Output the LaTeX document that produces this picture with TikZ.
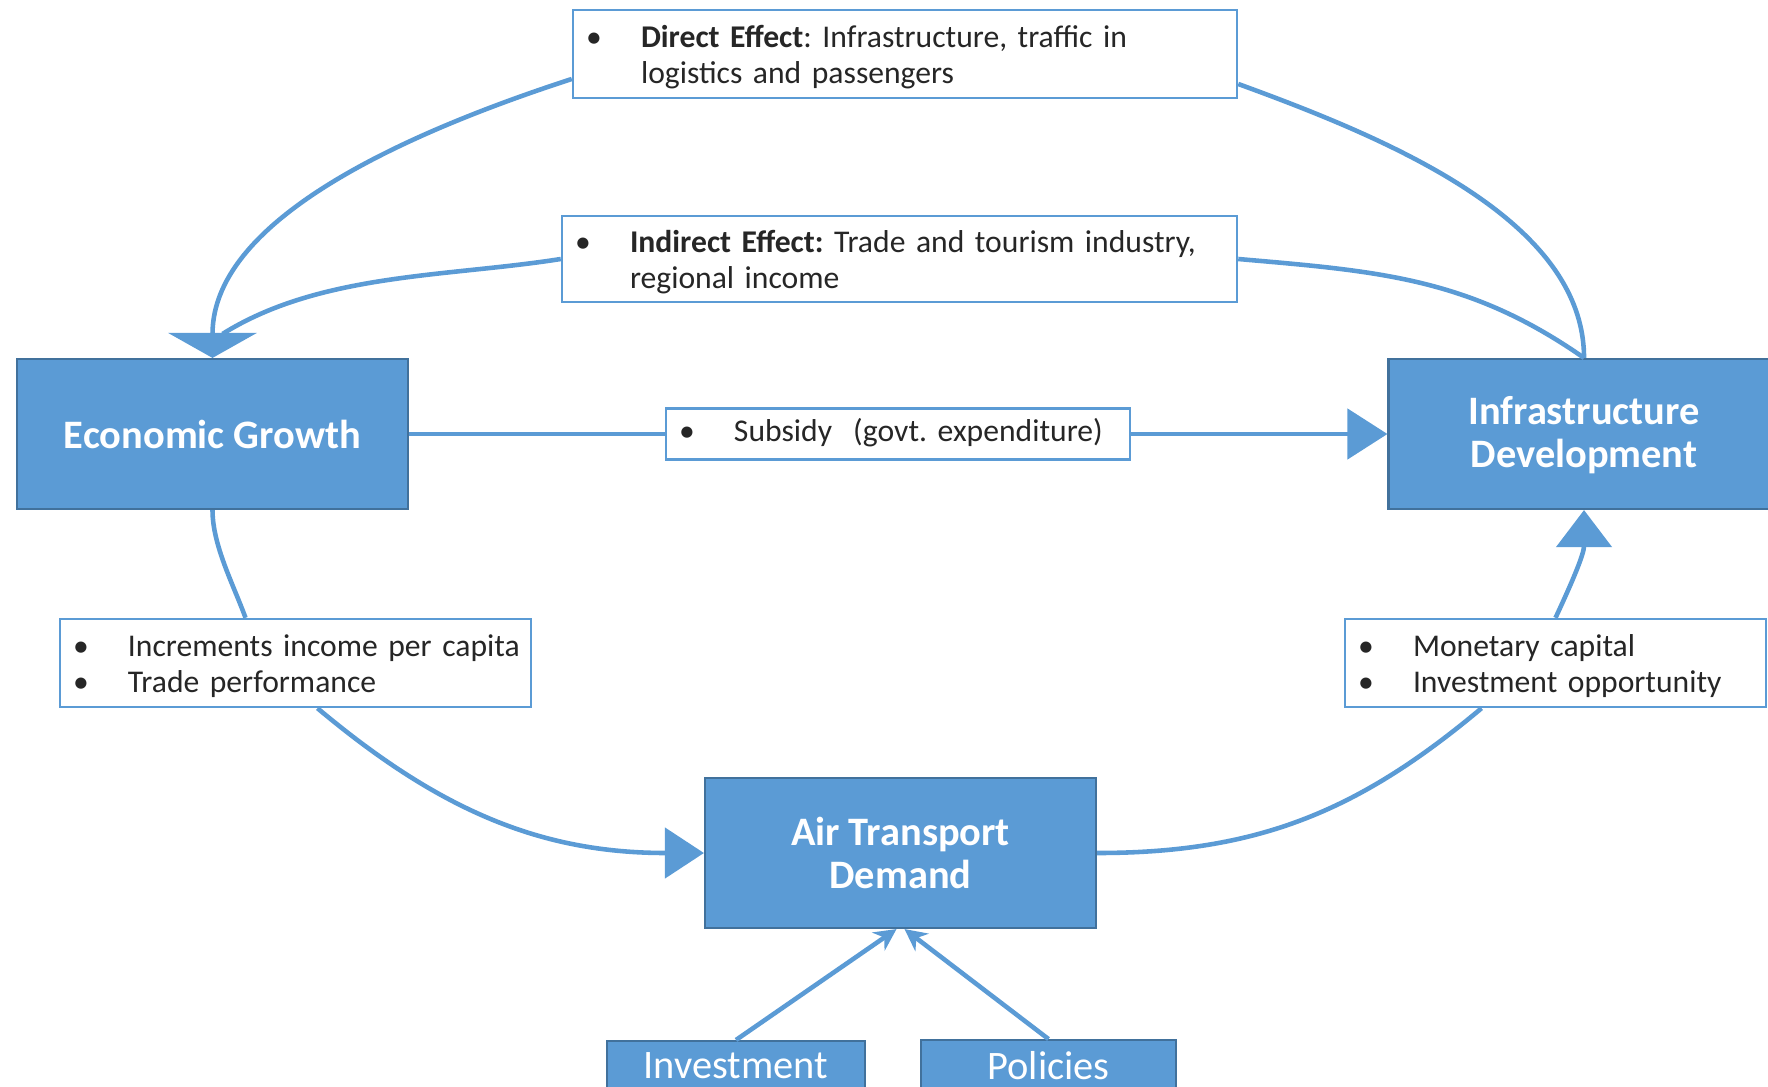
\documentclass[tikz,border=0pt]{standalone}
\usepackage{fontspec}
\setmainfont{Carlito}
\usetikzlibrary{arrows.meta}
\frenchspacing

\definecolor{boxblue}{HTML}{5B9BD5}
\definecolor{boxedge}{HTML}{41719C}
\definecolor{txtgray}{HTML}{262626}

% bullet list set in two columns, text lines kept aligned
\newcommand{\blist}[2][0.45mm]{\raisebox{-#1}[\height][\depth]{\begin{tabular}{@{}p{5.5mm}@{}l@{}}#2\end{tabular}}}

\begin{document}
\begin{tikzpicture}
	\tikzstyle{block}=[rectangle, draw=boxedge, fill=boxblue, line width=0.6pt, text=white, minimum width=39.1mm, minimum height=15mm, align=center, font=\fontsize{11.5}{12.2}\selectfont\bfseries]
	\tikzstyle{small}=[rectangle, draw=boxedge, fill=boxblue, line width=0.6pt, text=white, minimum height=5mm, font=\fontsize{11.5}{12.2}\selectfont]
	\tikzstyle{note}=[rectangle, draw=boxblue, fill=white, line width=0.7pt, inner xsep=1.3mm, inner ysep=0pt, align=left, text=txtgray, font=\fontsize{9}{10}\selectfont]
	\tikzstyle{link}=[draw=boxblue, line width=1.3pt]
	
	\useasboundingbox (0,0) rectangle (17.68,-10.86);
	
	\node at (2.125, -4.34) [block] (eg) {Economic Growth};
	\node at (15.84, -4.34) [block] (infra) {\raisebox{-0.3mm}[\height][\depth]{\begin{tabular}{@{}c@{}}Infrastructure\\Development\end{tabular}}};
	\node at (9.005, -8.53) [block] (atd) {Air Transport\\Demand};
	\node at (7.36, -10.66) [small, minimum width=25.8mm] (inv) {Investment};
	\node at (10.485, -10.66) [small, minimum width=25.5mm] (pol) {Policies};
	
	\node at (9.05, -0.54) [note, text width=63.8mm, minimum height=8.8mm] (direct) {\blist{\textbullet & \textbf{Direct Effect}: Infrastructure, traffic in\\ & logistics and passengers}};
	\node at (8.995, -2.59) [note, text width=64.9mm, minimum height=8.6mm] (indirect) {\blist{\textbullet & \textbf{Indirect Effect:} Trade and tourism industry,\\ & regional income}};
	\node at (8.98, -4.34) [note, text width=43.8mm, minimum height=5.1mm] (sub) {\blist[0mm]{\textbullet & Subsidy\ \ (govt. expenditure)}};
	\node at (2.955, -6.63) [note, text width=44.5mm, minimum height=8.8mm] (incr) {\blist{\textbullet & Increments income per capita\\ \textbullet & Trade performance}};
	\node at (15.555, -6.63) [note, text width=39.5mm, minimum height=8.8mm] (mon) {\blist{\textbullet & Monetary capital\\ \textbullet & Investment opportunity}};
	
	% upper loop: effects of infrastructure on growth
	\draw [link] (indirect.west) to[out=189, in=32, looseness=0.85] ([xshift=1mm, yshift=2.4mm]eg.north);
	\draw [link, -{Triangle[width=8.8mm,length=2.5mm]}] ([yshift=-2.5mm]direct.west) to[out=198, in=90, out looseness=0.9, in looseness=0.8] (eg.north);
	\draw [link] ([yshift=-3mm]direct.east) to[out=-20, in=90, out looseness=0.93, in looseness=0.8] (infra.north);
	\draw [link] (indirect.east) to[out=-5, in=145] (infra.north);
	
	\draw [link] (eg.east) -- (sub.west);
	\draw [link, -{Triangle[width=5mm,length=4mm]}] (sub.east) -- (infra.west);
	
	% lower loop through demand
	\draw [link] (eg.south) to[out=-90, in=110, looseness=0.8] ([xshift=-5mm]incr.north);
	\draw [link, -{Triangle[width=5mm,length=3.9mm]}] ([xshift=2.2mm]incr.south) to[out=-40, in=180] (atd.west);
	\draw [link] (atd.east) to[out=0, in=-140] ([xshift=-7.4mm]mon.south);
	\draw [link, -{Triangle[width=5.5mm,length=3.7mm]}] (mon.north) to[out=65, in=-90] (infra.south);
	
	\draw [link, -{Stealth[length=2.2mm,width=2.2mm]}] (inv.north) -- ([xshift=-0.4mm]atd.south);
	\draw [link, -{Stealth[length=2.2mm,width=2.2mm]}] (pol.north) -- ([xshift=0.4mm]atd.south);
\end{tikzpicture}
\end{document}
